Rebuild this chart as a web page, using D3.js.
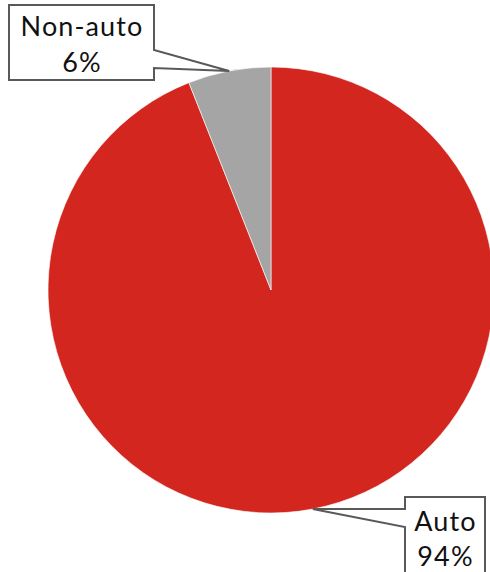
<!DOCTYPE html>
<html>
<head>
<meta charset="utf-8">
<script src="https://cdn.jsdelivr.net/npm/d3@7/dist/d3.min.js"></script>
<style>
  html, body { margin: 0; padding: 0; background: #fff; }
  svg { display: block; }
  text { font-family: "Century Gothic", "URW Gothic", Lato, "DejaVu Sans", sans-serif; fill: #111; }
</style>
</head>
<body>
<svg id="chart" width="490" height="572"></svg>
<script>
// Share of trips by mode
const categories = ["Auto", "Non-auto"];
const shares = [94, 6];
const colors = ["#D3261F", "#A5A5A5"];

const width = 490, height = 572;
const cx = 271, cy = 290, radius = 223;

const svg = d3.select("#chart");
const g = svg.append("g").attr("transform", `translate(${cx},${cy})`);

const data = categories.map((c, i) => ({ category: c, value: shares[i], color: colors[i] }));
const pie = d3.pie().sort(null).value(d => d.value);
const arc = d3.arc().innerRadius(0).outerRadius(radius);
const arcs = pie(data);

g.selectAll("path.slice")
  .data(arcs)
  .join("path")
  .attr("class", "slice")
  .attr("d", arc)
  .attr("fill", d => d.data.color)
  .attr("stroke", "#ffffff")
  .attr("stroke-width", 0.6);

// Callout boxes (one per category, same order): rectangle with a wedge
// pointing at the middle of the slice's rim
const callouts = [
  { box: { x: 405, y: 497, w: 80, h: 100 }, side: "left", join: [509, 527], lines: [531, 566] },
  { box: { x: 9, y: 5, w: 145, h: 75 }, side: "right", join: [50, 68], lines: [36, 71.5] }
];

arcs.forEach((a, i) => {
  const c = callouts[i];
  const mid = (a.startAngle + a.endAngle) / 2;
  const tip = [cx + radius * Math.sin(mid), cy - radius * Math.cos(mid)];
  const { x, y, w, h } = c.box;
  let p;
  if (c.side === "right") {
    p = [[x, y], [x + w, y], [x + w, c.join[0]], tip, [x + w, c.join[1]], [x + w, y + h], [x, y + h]];
  } else {
    p = [[x, y], [x + w, y], [x + w, y + h], [x, y + h], [x, c.join[1]], tip, [x, c.join[0]]];
  }
  svg.append("path")
    .attr("d", d3.line()(p) + "Z")
    .attr("fill", "#ffffff")
    .attr("stroke", "#595959")
    .attr("stroke-width", 2)
    .attr("stroke-linejoin", "miter");

  const t = svg.append("text")
    .attr("text-anchor", "middle")
    .attr("font-size", 27)
    .attr("letter-spacing", 1.1);
  t.append("tspan").attr("x", x + w / 2 + 0.5).attr("y", c.lines[0]).text(a.data.category);
  t.append("tspan").attr("x", x + w / 2 + 0.5).attr("y", c.lines[1]).text(a.data.value + "%");
});
</script>
</body>
</html>
